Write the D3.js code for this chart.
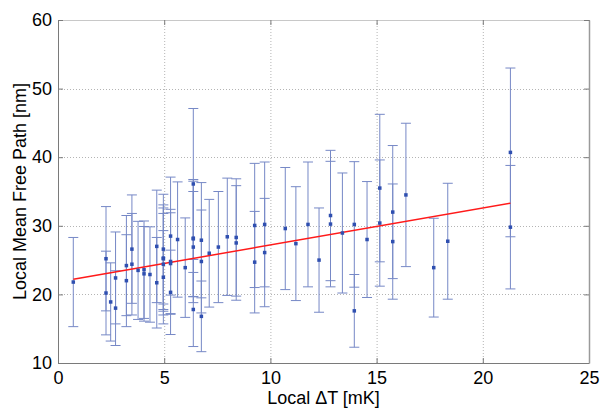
<!DOCTYPE html>
<html>
<head>
<meta charset="utf-8">
<script src="https://cdn.jsdelivr.net/npm/d3@7"></script>
<style>
	body { margin: 0; background: #fff; }
	svg { display: block; font-family: "Liberation Sans", Arial, sans-serif; }
</style>
</head>
<body>
<div id="chart"></div>
<script>
// local delta T [mK], mean free path [nm] and its error
let deltaT = [0.72, 2.26, 2.26, 2.48, 2.71, 2.71, 3.22, 3.22, 3.48, 3.48, 3.77, 4.05, 4.05, 4.33,
	4.65, 4.65, 4.96, 4.96, 4.96, 4.96, 4.96, 5.3, 5.3, 5.3, 5.3, 5.63, 5.99,
	6.37, 6.37, 6.37, 6.37, 6.37, 6.75, 6.75, 6.75, 7.12, 7.55, 7.97, 8.39, 8.39,
	9.26, 9.26, 9.73, 9.73, 10.7, 11.2, 11.77, 12.29, 12.83, 12.83, 13.39, 13.95, 13.95,
	14.55, 15.15, 15.15, 15.76, 15.76, 16.38, 17.69, 18.35, 21.3, 21.3];
let mfp = [21.8, 25.2, 20.2, 18.9, 22.4, 18.0, 24.2, 22.0, 26.6, 24.4, 23.5, 23.6, 23.0, 22.9,
	27.0, 21.7, 26.6, 25.3, 25.2, 24.4, 22.5, 28.5, 24.8, 24.5, 20.3, 28.0, 23.9,
	36.1, 28.2, 28.1, 26.9, 17.8, 27.9, 24.8, 16.8, 26.0, 26.9, 28.4, 28.3, 27.5,
	30.05, 24.7, 30.2, 26.1, 29.6, 27.4, 30.2, 25.0, 31.5, 30.25, 28.95, 30.2, 17.6,
	28.0, 35.5, 30.4, 32.0, 27.7, 34.5, 23.9, 27.75, 40.7, 29.8];
let mfpErr = [6.5, 7.6, 6.1, 5.7, 6.7, 5.45, 7.3, 6.7, 7.9, 7.4, 7.15, 7.1, 6.9, 6.95,
	8.2, 6.6, 8.0, 7.75, 7.4, 7.4, 6.8, 8.6, 7.6, 7.4, 6.15, 8.4, 7.25,
	11.0, 8.55, 8.4, 8.1, 5.4, 8.4, 7.5, 5.15, 7.85, 8.1, 8.55, 8.55, 8.35,
	9.05, 7.4, 9.1, 7.9, 8.9, 8.3, 9.1, 7.6, 9.5, 9.15, 8.75, 9.15, 5.3,
	8.45, 10.75, 9.2, 9.7, 8.4, 10.45, 7.2, 8.45, 12.3, 9.0];

// linear fit ends
let fitX = [0.72, 21.3];
let fitY = [22.2, 33.3];

let xTicks = [0, 5, 10, 15, 20, 25];
let yTicks = [10, 20, 30, 40, 50, 60];

let W = 601, H = 408;
let margin = {top: 20, right: 12, bottom: 45, left: 58};
let w = W - margin.left - margin.right;
let h = H - margin.top - margin.bottom;

let svg = d3.select("#chart")
	.append("svg")
	.attr("width", W)
	.attr("height", H);

let g = svg.append("g")
	.attr("transform", `translate(${margin.left},${margin.top})`);

let x = d3.scaleLinear().domain([0, 25]).range([0, w]);
let y = d3.scaleLinear().domain([10, 60]).range([h, 0]);

// dotted grid
g.append("g").selectAll("line")
	.data(xTicks.slice(1, -1))
	.enter().append("line")
	.attr("x1", d => x(d) + 0.5).attr("x2", d => x(d) + 0.5)
	.attr("y1", 0).attr("y2", h)
	.attr("stroke", "#b4b4b4")
	.attr("stroke-dasharray", "1,2");

g.append("g").selectAll("line")
	.data(yTicks.slice(1, -1))
	.enter().append("line")
	.attr("y1", d => Math.round(y(d)) + 0.5).attr("y2", d => Math.round(y(d)) + 0.5)
	.attr("x1", 0).attr("x2", w)
	.attr("stroke", "#b4b4b4")
	.attr("stroke-dasharray", "1,2");

// axes, MATLAB style: ticks inside, box all around
let tickLen = 5;
let axColor = "#7a7a7a";

let xAxis = g.append("g")
	.attr("transform", `translate(0,${h})`)
	.call(d3.axisBottom(x).tickValues(xTicks).tickSizeInner(-tickLen).tickSizeOuter(0).tickPadding(8));
let xAxisTop = g.append("g")
	.call(d3.axisTop(x).tickValues(xTicks).tickSizeInner(-tickLen).tickSizeOuter(0).tickFormat(""));
let yAxis = g.append("g")
	.call(d3.axisLeft(y).tickValues(yTicks).tickSizeInner(-tickLen).tickSizeOuter(0).tickPadding(6));
let yAxisRight = g.append("g")
	.attr("transform", `translate(${w},0)`)
	.call(d3.axisRight(y).tickValues(yTicks).tickSizeInner(-tickLen).tickSizeOuter(0).tickFormat(""));

for (let a of [xAxis, xAxisTop, yAxis, yAxisRight]) {
	a.selectAll("path, line").attr("stroke", axColor).attr("stroke-width", 1);
	a.selectAll("text")
		.attr("fill", "#000")
		.style("font-size", "18px");
}
xAxisTop.select("path").attr("stroke", "#c8c8c8");
yAxisRight.select("path").attr("stroke", "#9a9a9a").attr("stroke-width", 1.5);

// error bars
let data = deltaT.map((d, i) => ({x: d, y: mfp[i], e: mfpErr[i]}));
let capW = 5;
let barColor = "#7688c6";

let bars = g.append("g").selectAll("g")
	.data(data)
	.enter().append("g")
	.attr("stroke", barColor)
	.attr("stroke-width", 1);

bars.append("line")
	.attr("x1", d => x(d.x)).attr("x2", d => x(d.x))
	.attr("y1", d => y(d.y + d.e)).attr("y2", d => y(d.y - d.e));
bars.append("line")
	.attr("x1", d => x(d.x) - capW).attr("x2", d => x(d.x) + capW)
	.attr("y1", d => y(d.y + d.e)).attr("y2", d => y(d.y + d.e));
bars.append("line")
	.attr("x1", d => x(d.x) - capW).attr("x2", d => x(d.x) + capW)
	.attr("y1", d => y(d.y - d.e)).attr("y2", d => y(d.y - d.e));

// fit line
g.append("line")
	.attr("x1", x(fitX[0])).attr("y1", y(fitY[0]))
	.attr("x2", x(fitX[1])).attr("y2", y(fitY[1]))
	.attr("stroke", "#ff1a1a")
	.attr("stroke-width", 1.5);

// points
g.append("g").selectAll("rect")
	.data(data)
	.enter().append("rect")
	.attr("x", d => x(d.x) - 1.75)
	.attr("y", d => y(d.y) - 1.75)
	.attr("width", 3.5)
	.attr("height", 3.5)
	.attr("fill", "#2f4fb0");

// axis titles
svg.append("text")
	.attr("x", margin.left + w / 2)
	.attr("y", 404)
	.attr("text-anchor", "middle")
	.style("font-size", "18px")
	.text("Local \u0394T [mK]");

svg.append("text")
	.attr("transform", `translate(26,${margin.top + h / 2}) rotate(-90)`)
	.attr("text-anchor", "middle")
	.style("font-size", "18px")
	.text("Local Mean Free Path [nm]");
</script>
</body>
</html>
